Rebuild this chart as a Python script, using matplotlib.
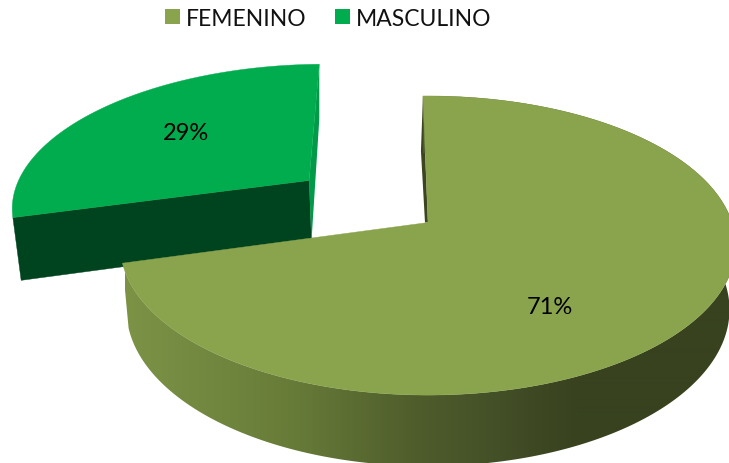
import numpy as np
import matplotlib
matplotlib.use("Agg")
import matplotlib.pyplot as plt
from matplotlib.patches import Polygon, Rectangle
from matplotlib.colors import LinearSegmentedColormap

plt.rcParams['font.family'] = ['Lato', 'DejaVu Sans']

categories = ["FEMENINO", "MASCULINO"]
shares = [71, 29]
labels = ["71%", "29%"]
top_colors = ["#8AA34D", "#00AC4E"]

# projection of the pie plane onto the canvas (pixels)
CX, CY, A, B, K = 428.0, 223.5, 304.0, 146.0, 0.154
DEPTH, SHRINK = 63.0, 0.98
START = -1.1
EXPLODE = [0.0, 0.504]
NUDGE = [0.0, -1.5]


def project(px, py, low=False):
    w = 1 + K * py
    sx = A * px / w
    sy = -B * py / w
    if low:
        sx *= SHRINK
        sy = sy * SHRINK + DEPTH / w
    return CX + sx, CY + sy


def wedge_points(t0, t1, off):
    mid = np.radians((t0 + t1) / 2)
    ox, oy = off * np.sin(mid), off * np.cos(mid)
    t = np.radians(np.linspace(t0, t1, 400))
    return ox, oy, ox + np.sin(t), oy + np.cos(t)


fig = plt.figure(figsize=(7.29, 4.64), dpi=100)
ax = fig.add_axes([0, 0, 1, 1])
ax.axis('off')

fractions = np.array(shares) / sum(shares)
edges = START + 360 * np.concatenate([[0], np.cumsum(fractions)])
side_cmap = LinearSegmentedColormap.from_list(
    "side", [(0, "#7C9346"), (0.28, "#677B38"), (0.48, "#4F5D2C"), (0.62, "#434F27"),
             (0.75, "#38421F"), (1, "#38421F")])

# small wedge behind, large wedge in front
for i in [1, 0]:
    t0, t1 = edges[i], edges[i + 1]
    ox, oy, ax_, ay_ = wedge_points(t0, t1, EXPLODE[i])
    tx, ty = project(ax_, ay_)
    bx, by = project(ax_, ay_, low=True)
    apx, apy = project(ox, oy)
    apbx, apby = project(ox, oy, low=True)
    tx, bx, apx, apbx = tx + NUDGE[i], bx + NUDGE[i], apx + NUDGE[i], apbx + NUDGE[i]
    if i == 1:
        ax.add_patch(Polygon([(tx[0], ty[0]), (bx[0], by[0]), (apbx, apby), (apx, apy)],
                             fc="#00441F", ec="#00441F", lw=0.3))
        ax.add_patch(Polygon([(tx[-1], ty[-1]), (tx[-1], ty[-1] + 55), (apbx, apby), (apx, apy)],
                             fc="#009A48", ec="none"))
    else:
        ax.add_patch(Polygon([(tx[0], ty[0]), (tx[0] - 2, ty[0] + 55), (apx - 3, apy), (apx, apy)],
                             fc="#3B451F", ec="none"))
        side = Polygon(np.column_stack([np.r_[tx, bx[::-1]], np.r_[ty, by[::-1]]]),
                       fc='none', ec='none', transform=ax.transData)
        ax.add_patch(side)
        grad = np.linspace(0, 1, 604)[None, :]
        im = ax.imshow(grad, cmap=side_cmap, extent=(125, 729, 464, 0), aspect='auto',
                       interpolation='bilinear', zorder=1)
        im.set_clip_path(side)
    ax.add_patch(Polygon(np.column_stack([np.r_[apx, tx], np.r_[apy, ty]]),
                         fc=top_colors[i], ec=top_colors[i], lw=0.3, zorder=2))

ax.set_xlim(0, 729)
ax.set_ylim(464, 0)

# data labels
ax.text(550, 307.5, labels[0], ha='center', va='center', fontsize=17, color='black', zorder=3)
ax.text(186, 133.5, labels[1], ha='center', va='center', fontsize=17, color='black', zorder=3)

# legend
for x, c, name in zip([165, 335], top_colors, categories):
    ax.add_patch(Rectangle((x, 10), 15, 15, fc=c, ec='none'))
    ax.text(x + 21, 20, name, ha='left', va='center', fontsize=16.5, color='#111111')

fig.savefig("out.png", dpi=100)
